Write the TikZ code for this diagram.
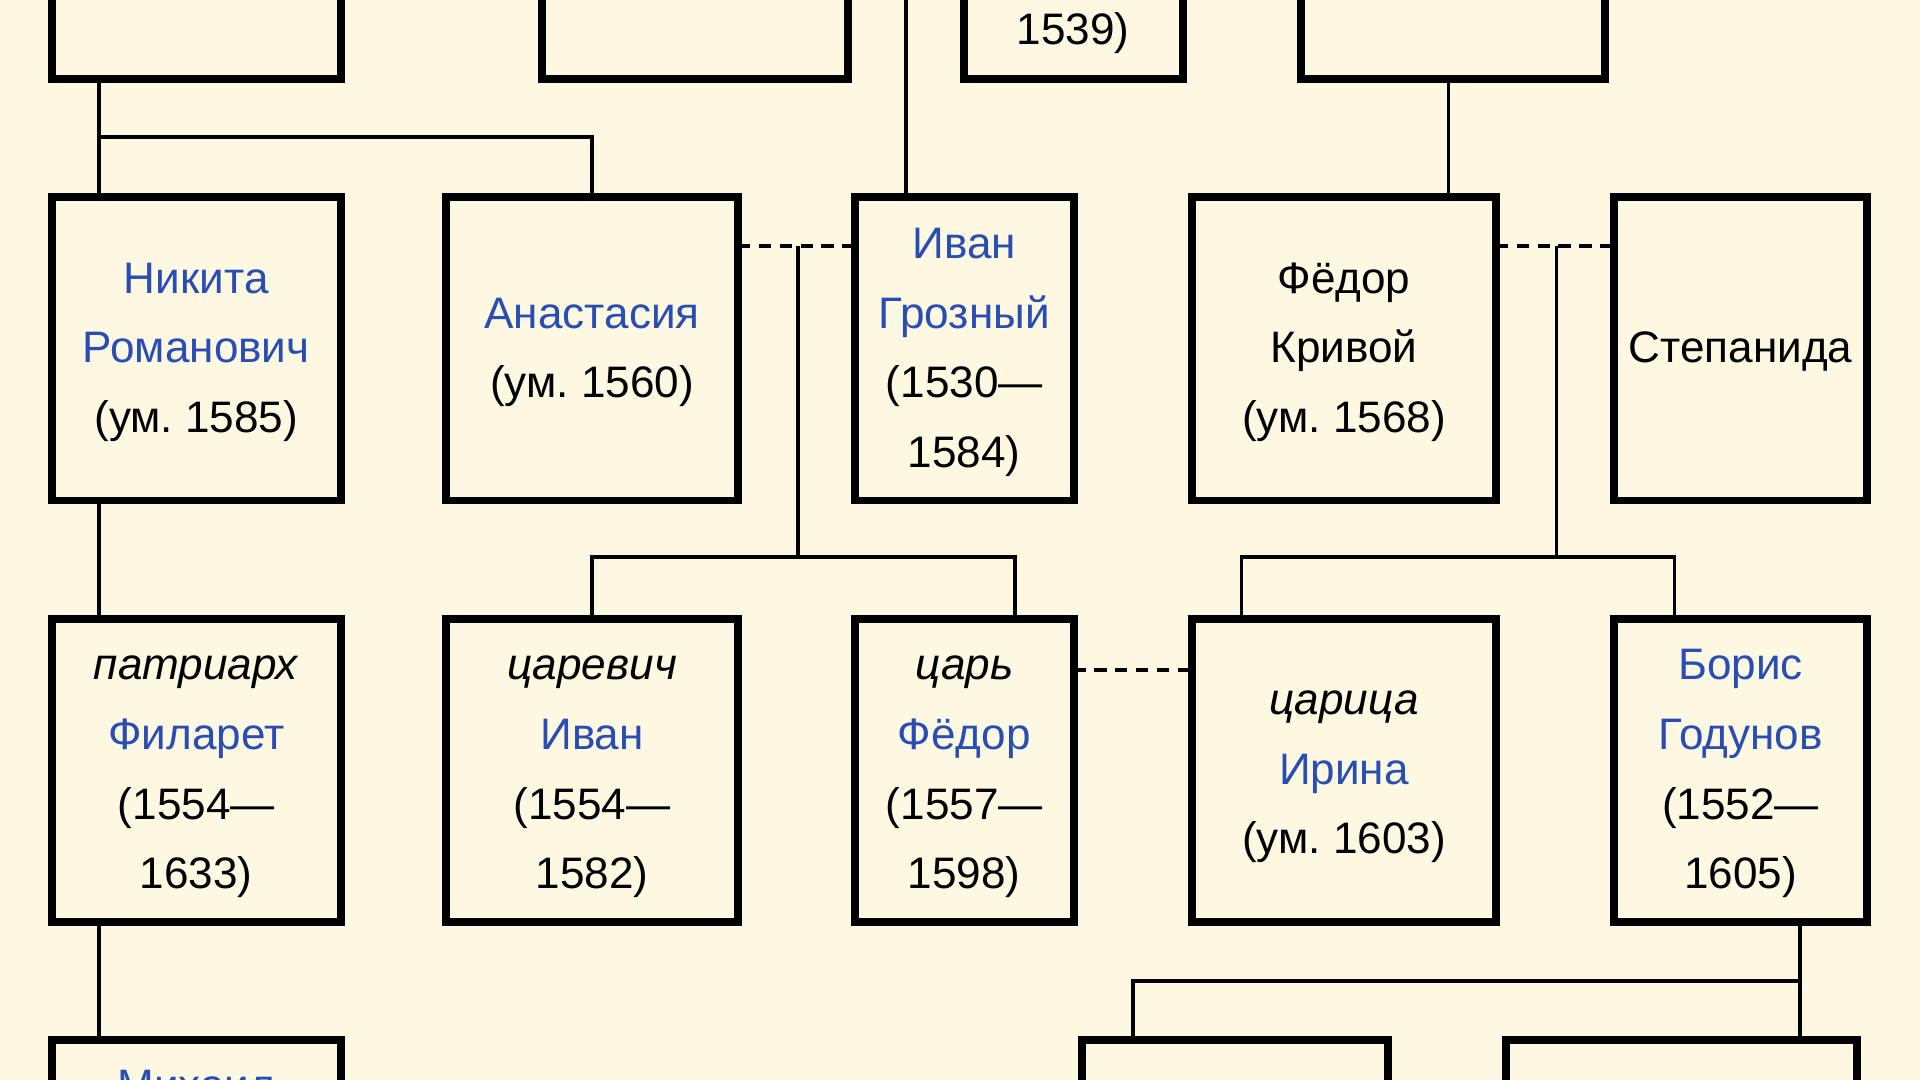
\documentclass[tikz,border=0pt]{standalone}
\usepackage{fontspec}
\setmainfont{Liberation Sans}
\definecolor{bg}{HTML}{FDF8E1}
\definecolor{lnk}{HTML}{2A4DB3}
\newcommand{\lk}[1]{\textcolor{lnk}{#1}}
\newcommand{\lnstrut}{\strut}
\begin{document}
\begin{tikzpicture}[x=1pt,y=-1pt,
  person/.style={draw=black, line width=6.5pt, rectangle, inner sep=0pt, outer sep=0pt,
    minimum height=247.5pt, align=center, font=\fontsize{36}{57}\selectfont\frenchspacing, text=black},
  c1/.style={person, minimum width=236pt},
  c2/.style={person, minimum width=238.5pt},
  c3/.style={person, minimum width=178.5pt},
  c4/.style={person, minimum width=248.5pt},
  c5/.style={person, minimum width=206.5pt},
  kin/.style={draw=black, line width=3pt},
  marriage/.style={draw=black, line width=3.5pt, dash pattern=on 10pt off 7pt},
  lbl/.style={font=\fontsize{36}{57}\selectfont, inner sep=0pt, anchor=base}]
\useasboundingbox (0,0) rectangle (1568,882);
\fill[bg] (0,0) rectangle (1568,882);
\clip (0,0) rectangle (1568,882);

% row 0
\node[c1] (A) at (160.25,-59) {};
\node[person, minimum width=250.5pt] (B) at (567.5,-59) {};
\node[c3] (C) at (876.5,-59) {};
\node[person, minimum width=248.5pt] (D) at (1186.5,-59) {};
\node[lbl] (Ct) at (876.5,36) {1539)};

% row 1
\node[c1] (nikita) at (160.25,285) {\lnstrut\lk{Никита}\\\lk{Романович}\\(ум. 1585)\lnstrut};
\node[c2] (anast) at (483.5,285) {\lnstrut\lk{Анастасия}\\(ум. 1560)\lnstrut};
\node[c3] (ivan) at (787.5,285) {\lnstrut\lk{Иван}\\\lk{Грозный}\\(1530—\\1584)\lnstrut};
\node[c4] (fkriv) at (1097.5,285) {\lnstrut Фёдор\\Кривой\\(ум. 1568)\lnstrut};
\node[c5] (stepan) at (1421.5,285) {\lnstrut Степанида\lnstrut};

% row 2
\node[c1] (filaret) at (160.25,629) {\lnstrut\textit{патриарх}\\\lk{Филарет}\\(1554—\\1633)\lnstrut};
\node[c2] (tsarevich) at (483.5,629) {\lnstrut\textit{царевич}\\\lk{Иван}\\(1554—\\1582)\lnstrut};
\node[c3] (tsarfy) at (787.5,629) {\lnstrut\textit{царь}\\\lk{Фёдор}\\(1557—\\1598)\lnstrut};
\node[c4] (irina) at (1097.5,629) {\lnstrut\textit{царица}\\\lk{Ирина}\\(ум. 1603)\lnstrut};
\node[c5] (boris) at (1421.5,629) {\lnstrut\lk{Борис}\\\lk{Годунов}\\(1552—\\1605)\lnstrut};

% row 3
\node[c1] (mikhail) at (160.25,973) {};
\node[person, minimum width=250.5pt] (E) at (1008.5,973) {};
\node[person, minimum width=286.5pt] (F) at (1373.5,973) {};
\node[lbl, text=lnk] (Mt) at (160.25,899) {Михаил};

% helper coordinates
\coordinate (x81) at (81,0);
\coordinate (x484) at (483.5,0);
\coordinate (x740) at (740,0);
\coordinate (x1183) at (1183,0);
\coordinate (x652) at (651.5,0);
\coordinate (x829) at (829,0);
\coordinate (x1271) at (1271,0);
\coordinate (x1014) at (1014,0);
\coordinate (x1368) at (1367.5,0);
\coordinate (x925) at (925,0);
\coordinate (x1470) at (1470,0);
\coordinate (top740) at (740,-20);
\coordinate (j1) at (81,112);
\coordinate (j2) at (483.5,112);
\coordinate (ya) at (0,201);
\coordinate (yb) at (0,455);
\coordinate (yc) at (0,547);
\coordinate (yd) at (0,801);

% connectors
\draw[kin] (A.south -| x81) -- (nikita.north -| x81);
\draw[kin] (j1) -- (j2) -- (anast.north -| j2);
\draw[kin] (top740) -- (ivan.north -| x740);
\draw[kin] (D.south -| x1183) -- (fkriv.north -| x1183);

\draw[marriage] (anast.east |- ya) -- (ivan.west |- ya);
\draw[kin] (x652 |- ya) -- (x652 |- yb);
\draw[kin] (tsarevich.north -| x484) -- (x484 |- yb) -- (x829 |- yb) -- (tsarfy.north -| x829);

\draw[marriage] (fkriv.east |- ya) -- (stepan.west |- ya);
\draw[kin] (x1271 |- ya) -- (x1271 |- yb);
\draw[kin] (irina.north -| x1014) -- (x1014 |- yb) -- (x1368 |- yb) -- (boris.north -| x1368);

\draw[marriage] (tsarfy.east |- yc) -- (irina.west |- yc);

\draw[kin] (nikita.south -| x81) -- (filaret.north -| x81);
\draw[kin] (filaret.south -| x81) -- (mikhail.north -| x81);

\draw[kin] (boris.south -| x1470) -- (F.north -| x1470);
\draw[kin] (E.north -| x925) -- (x925 |- yd) -- (x1470 |- yd);
\end{tikzpicture}
\end{document}
